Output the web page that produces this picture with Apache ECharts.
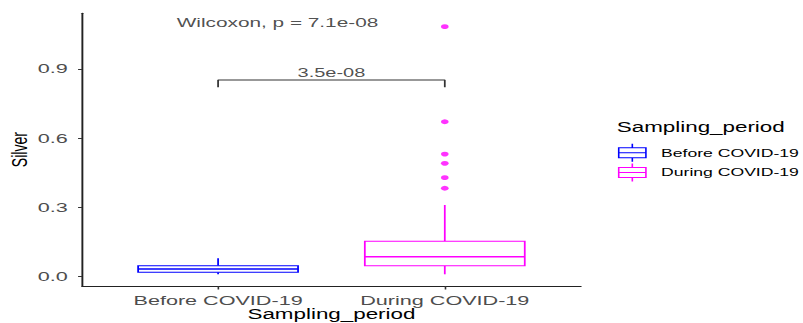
<!DOCTYPE html>
<html><head><meta charset="utf-8">
<script src="https://cdn.jsdelivr.net/npm/echarts@6/dist/echarts.min.js"></script>
<style>
html,body{margin:0;padding:0;background:#fff;overflow:hidden;width:803px;height:323px;}
#chart{width:502px;height:323px;transform:scaleX(1.5996);transform-origin:0 0;}
</style></head><body><div id="chart"></div>
<script>
// ---- data ----
const categories = ['Before COVID-19', 'During COVID-19'];
// [lower whisker, Q1, median, Q3, upper whisker]
const beforeStats = [0.0104, 0.0190, 0.0333, 0.0476, 0.0797];
const duringStats = [0.0104, 0.0476, 0.0866, 0.1533, 0.3105];
const duringOutliers = [1.083, 0.671, 0.531, 0.491, 0.429, 0.383];
const yTickValues = [0, 0.3, 0.6, 0.9];
const overallTestLabel = 'Wilcoxon, p = 7.1e-08';
const pairTestLabel = '3.5e-08';
const legendTitle = 'Sampling_period';
const xTitle = 'Sampling_period';
const yTitle = 'Silver';

// ---- layout constants (data-space) ----
const Y_MIN = -0.0403, Y_MAX = 1.1408;
const X_MIN = 0.4, X_MAX = 2.6;
const BOX_W = 0.7055;
const BRACKET_LOW = 0.820, BRACKET_HIGH = 0.852;
const OVERALL_POS = [0.8175, 1.101];

const BLUE = '#0000FF', MAGENTA = '#FF00FF';
const FONT = "'Liberation Sans', Arial, Helvetica, sans-serif";
const ICON = 'path://M0,4 L17,4 L17,14 L0,14 Z M0,9 L17,9 M8.5,0 L8.5,4 M8.5,14 L8.5,18';

function boxRender(color) {
  return function (params, api) {
    const x = api.value(0);
    const p = i => api.coord([x, api.value(i)]);
    const lo = p(1), q1 = p(2), md = p(3), q3 = p(4), hi = p(5);
    const half = api.size([BOX_W, 0])[0] / 2;
    const ls = { stroke: color, lineWidth: 1.1, fill: null };
    return {
      type: 'group', children: [
        { type: 'line', shape: { x1: lo[0], y1: lo[1], x2: q1[0], y2: q1[1] }, style: ls },
        { type: 'line', shape: { x1: q3[0], y1: q3[1], x2: hi[0], y2: hi[1] }, style: ls },
        { type: 'rect', shape: { x: q3[0] - half, y: q3[1], width: 2 * half, height: q1[1] - q3[1] },
          style: { fill: '#fff', stroke: color, lineWidth: 1.1 } },
        { type: 'line', shape: { x1: md[0] - half, y1: md[1], x2: md[0] + half, y2: md[1] },
          style: { stroke: color, lineWidth: 1.5 } }
      ]
    };
  };
}

const chart = echarts.init(document.getElementById('chart'), null, { renderer: 'svg', width: 502, height: 323 });
chart.setOption({
  animation: false,
  backgroundColor: '#fff',
  textStyle: { fontFamily: FONT },
  title: [{
    text: legendTitle, left: 385.6, top: 120.5, padding: 0,
    textStyle: { fontFamily: FONT, fontSize: 14, fontWeight: 'normal', color: '#000' }
  }],
  legend: {
    orient: 'vertical', left: 386.3, top: 143.3, padding: 0,
    itemWidth: 17, itemHeight: 18, itemGap: 0.7,
    textStyle: { fontFamily: FONT, fontSize: 11, color: '#000', padding: [0, 0, 0, 4.5] },
    data: [
      { name: categories[0], icon: ICON, itemStyle: { color: '#fff', borderColor: BLUE, borderWidth: 1 } },
      { name: categories[1], icon: ICON, itemStyle: { color: '#fff', borderColor: MAGENTA, borderWidth: 1 } }
    ]
  },
  grid: { left: 51.3, right: 138.9, top: 13.3, bottom: 37, containLabel: false, outerBoundsMode: 'none' },
  xAxis: {
    type: 'value', min: X_MIN, max: X_MAX,
    name: xTitle, nameLocation: 'middle', nameGap: 21, nameMoveOverlap: false,
    nameTextStyle: { fontFamily: FONT, fontSize: 14, color: '#000' },
    axisLine: { show: true, onZero: false, lineStyle: { color: '#222', width: 1.2 } },
    axisTick: { show: true, customValues: [1, 2], length: 3.5, lineStyle: { color: '#333', width: 1 } },
    axisLabel: {
      customValues: [1, 2], margin: 7.5, fontFamily: FONT, fontSize: 13.5, color: '#4D4D4D',
      formatter: v => categories[Math.round(v) - 1] || ''
    },
    splitLine: { show: false }
  },
  yAxis: {
    type: 'value', min: Y_MIN, max: Y_MAX,
    name: yTitle, nameLocation: 'middle', nameRotate: 90, nameGap: 32, nameMoveOverlap: false,
    nameTextStyle: { fontFamily: FONT, fontSize: 14, color: '#000' },
    axisLine: { show: true, onZero: false, lineStyle: { color: '#222', width: 1.2 } },
    axisTick: { show: true, customValues: yTickValues, length: 2.5, lineStyle: { color: '#333', width: 1 } },
    axisLabel: {
      customValues: yTickValues, margin: 9, fontFamily: FONT, fontSize: 13.5, color: '#4D4D4D',
      formatter: v => Number(v).toFixed(1)
    },
    splitLine: { show: false }
  },
  series: [
    {
      name: categories[0], type: 'custom', renderItem: boxRender(BLUE),
      itemStyle: { color: BLUE },
      encode: { x: 0, y: [1, 2, 3, 4, 5] },
      data: [[1].concat(beforeStats)]
    },
    {
      name: categories[1], type: 'custom', renderItem: boxRender(MAGENTA),
      itemStyle: { color: MAGENTA },
      encode: { x: 0, y: [1, 2, 3, 4, 5] },
      data: [[2].concat(duringStats)]
    },
    {
      name: 'outliers', type: 'scatter', symbol: 'circle', symbolSize: 4.8,
      itemStyle: { color: MAGENTA }, silent: true,
      data: duringOutliers.map(v => [2, v])
    },
    {
      name: 'bracket', type: 'line', symbol: 'none', silent: true,
      lineStyle: { color: '#333', width: 1.1 },
      data: [[1, BRACKET_LOW], [1, BRACKET_HIGH], [2, BRACKET_HIGH], [2, BRACKET_LOW]]
    },
    {
      name: 'pairLabel', type: 'scatter', symbolSize: 0, silent: true,
      label: { show: true, position: 'top', distance: 1, formatter: pairTestLabel,
        fontFamily: FONT, fontSize: 12.5, color: '#222' },
      data: [[1.5, BRACKET_HIGH]]
    },
    {
      name: 'overallLabel', type: 'scatter', symbolSize: 0, silent: true,
      label: { show: true, position: 'right', distance: 0, formatter: overallTestLabel,
        fontFamily: FONT, fontSize: 13, color: '#222' },
      data: [OVERALL_POS]
    }
  ]
});
</script></body></html>
